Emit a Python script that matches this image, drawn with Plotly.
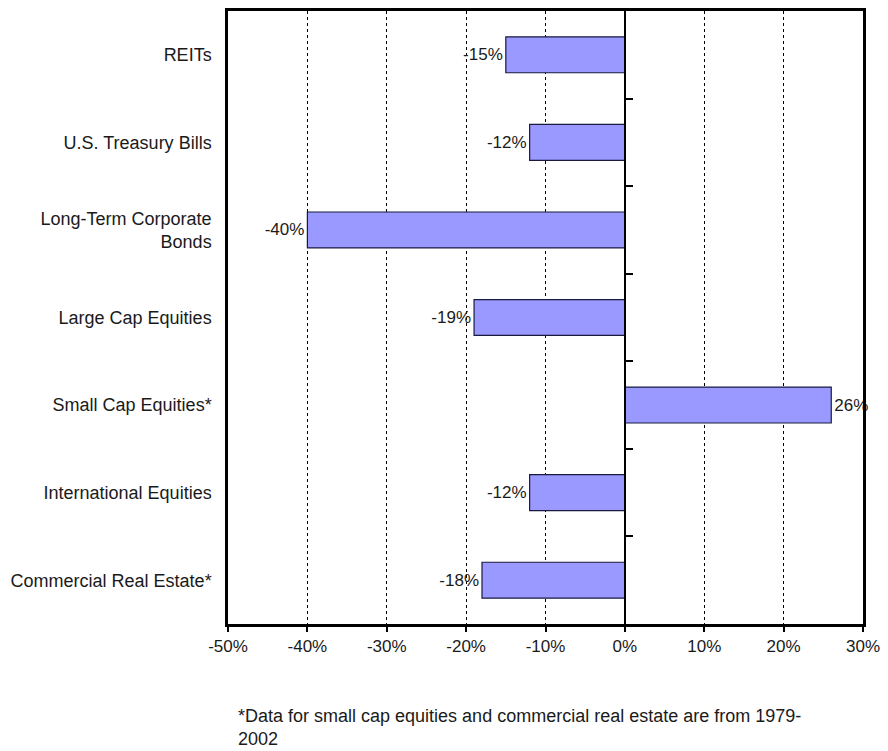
import plotly.graph_objects as go

# Worst-year returns by asset class
categories = [
    "REITs",
    "U.S. Treasury Bills",
    "Long-Term Corporate<br>Bonds",
    "Large Cap Equities",
    "Small Cap Equities*",
    "International Equities",
    "Commercial Real Estate*",
]
values = [-15, -12, -40, -19, 26, -12, -18]
x_ticks = [-50, -40, -30, -20, -10, 0, 10, 20, 30]
x_tick_labels = [f"{v}%" for v in x_ticks]
footnote = "*Data for small cap equities and commercial real estate are from 1979-<br>2002"

FONT = "Liberation Sans"
TEXT = "#1a1a1a"
x_min, x_max = -50, 30
n = len(categories)

fig = go.Figure()
fig.add_trace(go.Bar(
    x=values,
    y=categories,
    orientation="h",
    marker=dict(color="#9999FF", line=dict(color="#1a1a40", width=1.2)),
    text=[f"{v}%" for v in values],
    textposition="outside",
    textfont=dict(family=FONT, size=17, color=TEXT),
    cliponaxis=False,
    hoverinfo="skip",
    width=0.41,
))

# invisible helper so the zero-crossing axis is drawn
fig.add_trace(go.Scatter(
    x=[0], y=[0], xaxis="x", yaxis="y2", mode="markers",
    marker=dict(opacity=0), hoverinfo="skip", showlegend=False,
))

zero_frac = (0 - x_min) / (x_max - x_min)

fig.update_layout(
    width=888, height=751,
    margin=dict(l=228, r=18, t=8, b=127),
    paper_bgcolor="white", plot_bgcolor="white",
    showlegend=False,
    font=dict(family=FONT, size=17, color=TEXT),
    xaxis=dict(
        range=[x_min, x_max],
        tickmode="array", tickvals=x_ticks, ticktext=x_tick_labels,
        ticks="outside", ticklen=5, tickwidth=1.5, tickcolor="black",
        showline=True, linecolor="black", linewidth=2.5, mirror=True,
        showgrid=True, gridcolor="black", gridwidth=1, griddash="3px,3px",
        zeroline=False,
        tickfont=dict(family=FONT, size=17, color=TEXT),
        fixedrange=True,
    ),
    yaxis=dict(
        type="category",
        categoryorder="array", categoryarray=categories,
        range=[n - 0.5, -0.5],
        ticks="", ticklabelstandoff=10,
        showline=True, linecolor="black", linewidth=2.5, mirror=True,
        showgrid=False,
        tickfont=dict(family=FONT, size=18, color=TEXT),
        fixedrange=True,
    ),
    yaxis2=dict(
        overlaying="y", anchor="free", position=zero_frac, side="right",
        range=[n - 0.5, -0.5],
        tickmode="array", tickvals=[i + 0.5 for i in range(n - 1)],
        ticks="outside", ticklen=7, tickwidth=2, tickcolor="black",
        showticklabels=False, showgrid=False, zeroline=False,
        showline=True, linecolor="black", linewidth=2,
        fixedrange=True,
    ),
    annotations=[dict(
        text=footnote, xref="paper", yref="paper",
        x=8 / 642, y=-0.13, xanchor="left", yanchor="top",
        align="left", showarrow=False,
        font=dict(family=FONT, size=18, color=TEXT),
    )],
)

fig.write_html("out.html")
